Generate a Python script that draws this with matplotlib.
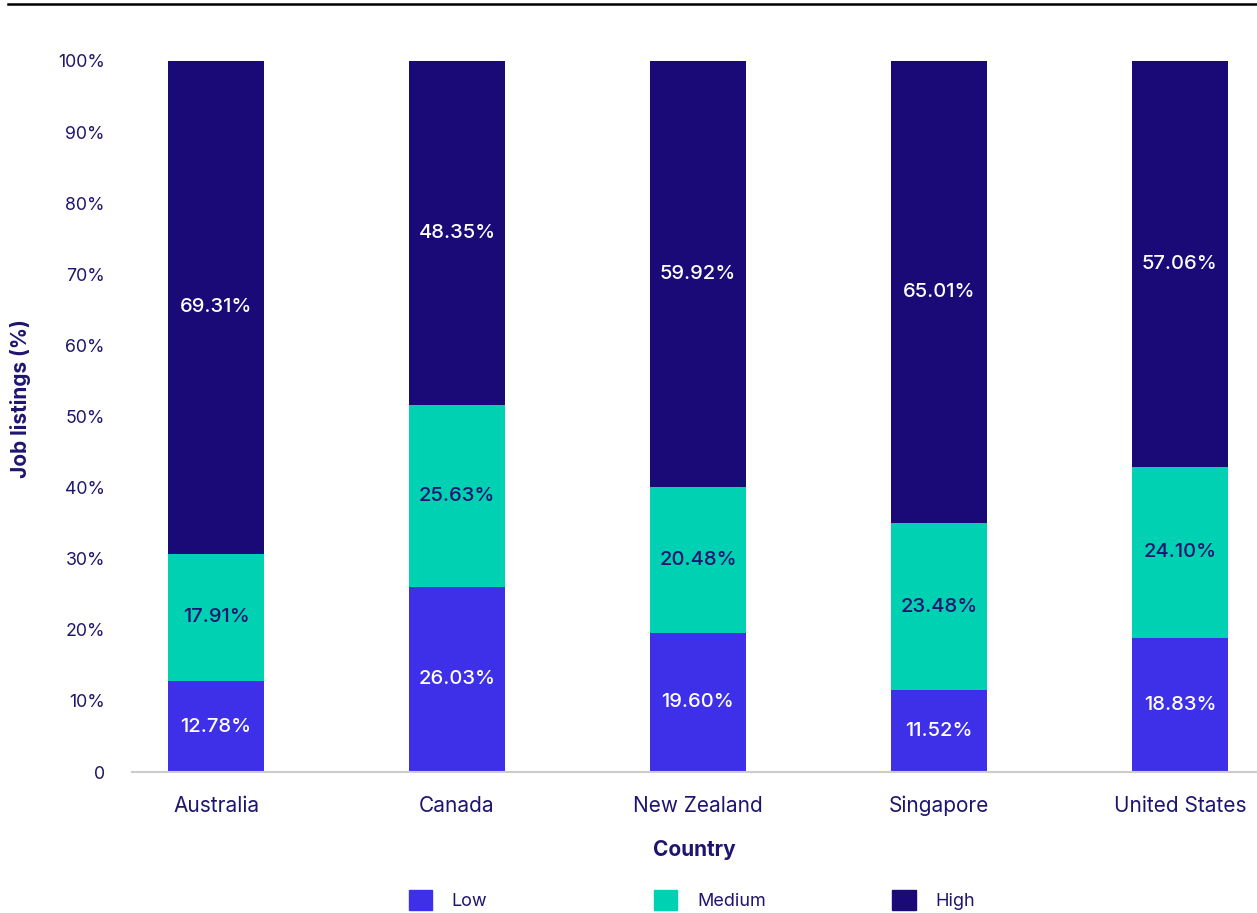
import numpy as np
import matplotlib.pyplot as plt
from matplotlib.lines import Line2D
from matplotlib.patches import Patch

# data
countries = ["Australia", "Canada", "New Zealand", "Singapore", "United States"]
low = [12.78, 26.03, 19.60, 11.52, 18.83]
medium = [17.91, 25.63, 20.48, 23.48, 24.10]
high = [69.31, 48.35, 59.92, 65.01, 57.06]

c_low = "#3E2FE8"
c_med = "#00D1B2"
c_high = "#190A77"
txt = "#1E1570"

plt.rcParams['font.family'] = ['Inter', 'DejaVu Sans']

fig = plt.figure(figsize=(12.57, 9.13), dpi=100)
ax = fig.add_axes([0.105, 0.1544, 0.895, 0.7788])

x = np.arange(len(countries))
w = 0.4
low_a = np.array(low)
med_a = np.array(medium)
high_a = np.array(high)

b1 = ax.bar(x, low_a, w, color=c_low, label="Low")
b2 = ax.bar(x, med_a, w, bottom=low_a, color=c_med, label="Medium")
b3 = ax.bar(x, high_a, w, bottom=low_a + med_a, color=c_high, label="High")

# value labels in the middle of each segment
for i in range(len(countries)):
    ax.text(x[i], low_a[i] / 2, f"{low_a[i]:.2f}%", ha='center', va='center',
            color='white', fontsize=14.5, fontweight='medium')
    ax.text(x[i], low_a[i] + med_a[i] / 2, f"{med_a[i]:.2f}%", ha='center', va='center',
            color=txt, fontsize=14.5, fontweight='medium')
    ax.text(x[i], low_a[i] + med_a[i] + high_a[i] / 2, f"{high_a[i]:.2f}%", ha='center',
            va='center', color='white', fontsize=14.5, fontweight='medium')

ax.set_xlim(-0.349, 4.32)
ax.set_ylim(0, 100)
yt = np.arange(0, 101, 10)
ax.set_yticks(yt)
ax.set_yticklabels(["0"] + [f"{v}%" for v in yt[1:]])
ax.set_xticks(x)
ax.set_xticklabels(countries)
ax.tick_params(axis='y', length=0, pad=19.5, labelsize=12.8, labelcolor=txt)
ax.tick_params(axis='x', length=0, pad=17, labelsize=15, labelcolor=txt)

for s in ['top', 'right', 'left']:
    ax.spines[s].set_visible(False)
ax.spines['bottom'].set_color('#CCCCCC')
ax.spines['bottom'].set_linewidth(1.5)

ax.set_xlabel("Country", fontsize=15, fontweight='bold', color=txt, labelpad=17.5)
fig.text(0.016, 0.563, "Job listings (%)", rotation=90, ha='center', va='center',
         fontsize=15, fontweight='bold', color=txt)

# top rule
fig.add_artist(Line2D([0.006, 1.0], [0.9955, 0.9955], color='black', lw=1.8))

# legend, one entry at a time
leg_x = [0.325, 0.520, 0.710]
for lbl, col, lx in zip(["Low", "Medium", "High"], [c_low, c_med, c_high], leg_x):
    fig.legend(handles=[Patch(color=col)], labels=[lbl], loc='center left',
               bbox_to_anchor=(lx, 0.014), frameon=False, handlelength=1.3,
               handleheight=1.3, handletextpad=1.1, fontsize=13, labelcolor=txt,
               borderaxespad=0, borderpad=0)

plt.savefig("out.png", dpi=100)
